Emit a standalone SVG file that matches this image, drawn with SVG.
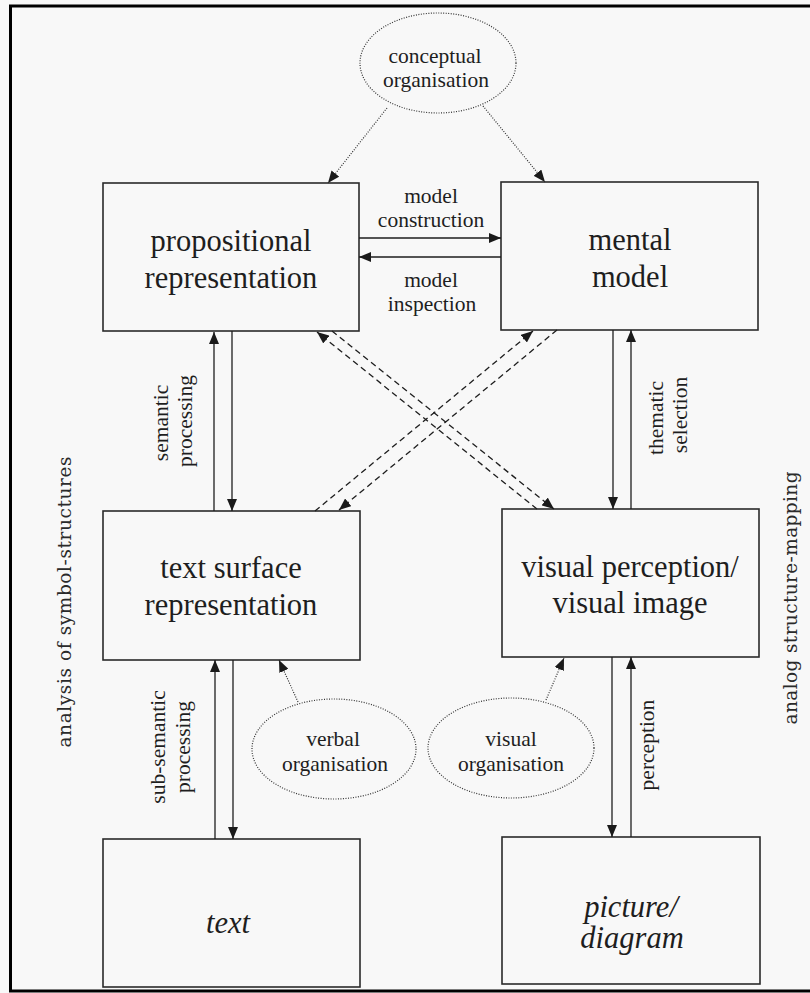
<svg xmlns="http://www.w3.org/2000/svg" width="810" height="993" viewBox="0 0 810 993">
<defs>
<marker id="ah" viewBox="0 0 12 10" refX="12" refY="5" markerWidth="12" markerHeight="10" markerUnits="userSpaceOnUse" orient="auto">
<path d="M0,0 L12,5 L0,10 z" fill="#1a1a1a"/>
</marker>
</defs>
<style>
.box{fill:none;stroke:#2a2a2a;stroke-width:1.6}
.ell{fill:none;stroke:#333;stroke-width:1.2;stroke-dasharray:1 1.5}
.big{font-family:"Liberation Serif","Times New Roman",serif;font-size:30.5px;fill:#1e1e1e;text-anchor:middle}
.it{font-style:italic}
.sm{font-family:"Liberation Serif","Times New Roman",serif;font-size:21.5px;fill:#1e1e1e;text-anchor:middle}
.side{font-family:"DejaVu Serif",serif;font-size:18.5px;fill:#2a2a2a;text-anchor:middle}
.solid{stroke:#1e1e1e;stroke-width:1.3;fill:none;marker-end:url(#ah)}
.dash{stroke:#1e1e1e;stroke-width:1.3;fill:none;stroke-dasharray:6 4;marker-end:url(#ah)}
.dot{stroke:#333;stroke-width:1.2;fill:none;stroke-dasharray:1 1.5;marker-end:url(#ah)}
</style>
<rect x="0" y="0" width="810" height="993" fill="#f8f8f8"/>
<rect id="frame" x="10.5" y="6" width="830" height="985" fill="none" stroke="#000" stroke-width="3"/>

<g id="propositional">
<rect class="box" x="103" y="183" width="256" height="148"/>
<text class="big" x="231" y="251">propositional</text>
<text class="big" x="231" y="288">representation</text>
</g>
<g id="mental">
<rect class="box" x="501" y="182" width="257" height="148"/>
<text class="big" x="630" y="250">mental</text>
<text class="big" x="630" y="287">model</text>
</g>
<g id="textsurface">
<rect class="box" x="103" y="511" width="257" height="149"/>
<text class="big" x="231" y="578">text surface</text>
<text class="big" x="231" y="615">representation</text>
</g>
<g id="visual">
<rect class="box" x="502" y="509" width="257" height="148"/>
<text class="big" x="630" y="577">visual perception/</text>
<text class="big" x="630" y="613">visual image</text>
</g>
<g id="text">
<rect class="box" x="103" y="839" width="257" height="148"/>
<text class="big it" x="228" y="933">text</text>
</g>
<g id="picture">
<rect class="box" x="502" y="837" width="258" height="147"/>
<text class="big it" x="631" y="917">picture/</text>
<text class="big it" x="632" y="948">diagram</text>
</g>
<g id="conceptual">
<ellipse class="ell" cx="438" cy="63" rx="78" ry="50"/>
<text class="sm" x="435" y="63">conceptual</text>
<text class="sm" x="436" y="87">organisation</text>
</g>
<g id="verbal">
<ellipse class="ell" cx="334" cy="749" rx="82" ry="50"/>
<text class="sm" x="333" y="746">verbal</text>
<text class="sm" x="335" y="771">organisation</text>
</g>
<g id="visualorg">
<ellipse class="ell" cx="511" cy="748" rx="83" ry="50"/>
<text class="sm" x="511" y="746">visual</text>
<text class="sm" x="511" y="771">organisation</text>
</g>

<g id="connectors">
<line class="dot" x1="387" y1="108" x2="328" y2="183"/>
<line class="dot" x1="483" y1="106" x2="545" y2="182"/>
<line class="solid" x1="359" y1="238" x2="501" y2="238"/>
<line class="solid" x1="501" y1="257" x2="359" y2="257"/>
<line class="solid" x1="214" y1="511" x2="214" y2="332"/>
<line class="solid" x1="232" y1="331" x2="232" y2="511"/>
<line class="solid" x1="613" y1="330" x2="613" y2="509"/>
<line class="solid" x1="631" y1="509" x2="631" y2="330"/>
<line class="solid" x1="215" y1="839" x2="215" y2="660"/>
<line class="solid" x1="233" y1="660" x2="233" y2="839"/>
<line class="solid" x1="612" y1="657" x2="612" y2="837"/>
<line class="solid" x1="631" y1="837" x2="631" y2="657"/>
<line class="dash" x1="537" y1="509" x2="317" y2="332"/>
<line class="dash" x1="332" y1="331" x2="554" y2="509"/>
<line class="dash" x1="557" y1="330" x2="339" y2="510"/>
<line class="dash" x1="315" y1="511" x2="533" y2="331"/>
<line class="dot" x1="298" y1="702" x2="279" y2="660"/>
<line class="dot" x1="546" y1="700" x2="564" y2="658"/>
</g>

<g id="labels">
<text class="sm" x="431" y="203">model</text>
<text class="sm" x="431" y="227">construction</text>
<text class="sm" x="431" y="287">model</text>
<text class="sm" x="432" y="311">inspection</text>
<text class="sm" transform="translate(168,423) rotate(-90)">semantic</text>
<text class="sm" transform="translate(192,421) rotate(-90)">processing</text>
<text class="sm" transform="translate(663,418) rotate(-90)">thematic</text>
<text class="sm" transform="translate(687,415) rotate(-90)">selection</text>
<text class="sm" transform="translate(165,747) rotate(-90)">sub-semantic</text>
<text class="sm" transform="translate(190,747) rotate(-90)">processing</text>
<text class="sm" transform="translate(654,745) rotate(-90)">perception</text>
<text class="side" transform="translate(71,602) rotate(-90)" textLength="291" lengthAdjust="spacing">analysis of symbol-structures</text>
<text class="side" transform="translate(797,598) rotate(-90)" textLength="253" lengthAdjust="spacing">analog structure-mapping</text>
</g>
</svg>
